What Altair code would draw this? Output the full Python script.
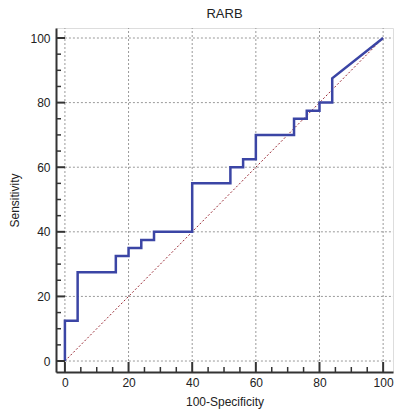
import altair as alt
import pandas as pd

# ROC step points (100-Specificity, Sensitivity)
fpr = [0, 0, 4, 4, 16, 16, 20, 20, 24, 24, 28, 28, 40, 40, 52, 52, 56, 56, 60, 60, 72, 72, 76, 76, 80, 80, 84, 84, 100]
tpr = [0, 12.5, 12.5, 27.5, 27.5, 32.5, 32.5, 35, 35, 37.5, 37.5, 40, 40, 55, 55, 60, 60, 62.5, 62.5, 70, 70, 75, 75, 77.5, 77.5, 80, 80, 87.5, 100]
diag_x = [0, 100]
diag_y = [0, 100]
major_ticks = [0, 20, 40, 60, 80, 100]
minor_ticks = [v for v in range(0, 101, 5) if v % 20 != 0]

W, H = 337, 344
XDOM = [-2.8, 103.1]
YDOM = [-3.4, 103.1]
FONT = "Liberation Sans"

roc = pd.DataFrame({"x": fpr, "y": tpr, "i": range(len(fpr))})
diag = pd.DataFrame({"x": diag_x, "y": diag_y, "i": range(2)})
maj = pd.DataFrame({"v": major_ticks})
mnr = pd.DataFrame({"v": minor_ticks})

xs = alt.Scale(domain=XDOM, nice=False, zero=False)
ys = alt.Scale(domain=YDOM, nice=False, zero=False)

xaxis = alt.Axis(values=major_ticks, ticks=False, grid=False, domainColor="#333", domainWidth=2,
                 labelFont=FONT, labelFontSize=12, labelColor="#222", labelPadding=5,
                 title="100-Specificity", titleFont=FONT, titleFontSize=12, titleFontWeight="normal",
                 titleColor="#222", titlePadding=8)
yaxis = alt.Axis(values=major_ticks, ticks=False, grid=False, domainColor="#333", domainWidth=2,
                 labelFont=FONT, labelFontSize=12, labelColor="#222", labelPadding=6,
                 title="Sensitivity", titleFont=FONT, titleFontSize=12, titleFontWeight="normal",
                 titleColor="#222", titlePadding=8)

gridv = alt.Chart(maj).mark_rule(color="#999", strokeWidth=1, strokeDash=[2, 2]).encode(
    x=alt.X("v:Q", scale=xs, axis=xaxis),
    y=alt.datum(0, scale=ys, axis=yaxis),
    y2=alt.value(0),
)
gridh = alt.Chart(maj).mark_rule(color="#999", strokeWidth=1, strokeDash=[2, 2]).encode(
    y=alt.Y("v:Q", scale=ys),
    x=alt.datum(0),
    x2=alt.value(W),
)
diag_line = alt.Chart(diag).mark_line(color="#9a2a35", strokeWidth=1, strokeDash=[2, 2]).encode(
    x=alt.X("x:Q", scale=xs), y=alt.Y("y:Q", scale=ys), order="i:Q"
)
roc_line = alt.Chart(roc).mark_line(color="#3b45a5", strokeWidth=2.5, interpolate="linear").encode(
    x=alt.X("x:Q", scale=xs), y=alt.Y("y:Q", scale=ys), order="i:Q"
)
xmaj = alt.Chart(maj).mark_rule(color="#333", strokeWidth=2).encode(
    x=alt.X("v:Q", scale=xs), y=alt.value(H), y2=alt.value(H - 10))
xmin = alt.Chart(mnr).mark_rule(color="#333", strokeWidth=1.5).encode(
    x=alt.X("v:Q", scale=xs), y=alt.value(H), y2=alt.value(H - 5))
ymaj = alt.Chart(maj).mark_rule(color="#333", strokeWidth=2).encode(
    y=alt.Y("v:Q", scale=ys), x=alt.value(0), x2=alt.value(9))
ymin = alt.Chart(mnr).mark_rule(color="#333", strokeWidth=1.5).encode(
    y=alt.Y("v:Q", scale=ys), x=alt.value(0), x2=alt.value(5))

chart = alt.layer(gridv, gridh, diag_line, roc_line, xmaj, xmin, ymaj, ymin).properties(
    width=W, height=H,
    title=alt.TitleParams("RARB", font=FONT, fontSize=13, fontWeight="normal", color="#222",
                          anchor="middle", offset=7),
    autosize=alt.AutoSizeParams(type="none"),
    padding={"left": 56, "top": 28, "right": 2, "bottom": 39},
).configure_view(stroke=None).configure(background="white")

chart.save("out.html", embed_options={"renderer": "svg", "actions": False})
